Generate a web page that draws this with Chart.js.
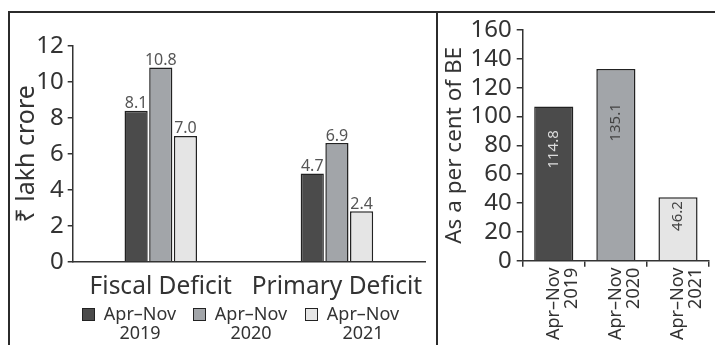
<!DOCTYPE html>
<html>
<head>
<meta charset="utf-8">
<script src="https://cdn.jsdelivr.net/npm/chart.js@4.4.1/dist/chart.umd.min.js"></script>
<style>
  body { margin: 0; background: #fff; font-family: 'Noto Sans', sans-serif; }
  #wrap { position: relative; width: 715px; height: 345px; overflow: hidden; }
  .line { position: absolute; background: #2b2b2b; }
  canvas { position: absolute; }
  .leg { position: absolute; top: 304px; color: #333; font-size: 18px; line-height: 19px; }
  .leg .box { position: absolute; left: 0; top: 4px; width: 11px; height: 11px; border: 1.5px solid #222; }
  .leg .txt { position: absolute; left: 17px; top: 0; width: 82px; text-align: center; white-space: nowrap; }
</style>
</head>
<body>
<div id="wrap">
  <div class="line" style="left:8px;top:11px;width:707px;height:2px"></div>
  <div class="line" style="left:8px;top:11px;width:2px;height:334px"></div>
  <div class="line" style="left:436px;top:11px;width:2px;height:334px"></div>
  <canvas id="deficitChart" width="426" height="332" style="left:10px;top:13px"></canvas>
  <canvas id="beChart" width="277" height="332" style="left:438px;top:13px"></canvas>
  <div id="legend"></div>
</div>
<script>
// left chart: Rs lakh crore
const categories = ['Fiscal Deficit', 'Primary Deficit'];
const periods = ['2019', '2020', '2021'];
const values2019 = [8.4, 4.9];
const values2020 = [10.8, 6.6];
const values2021 = [7.0, 2.8];
const labels2019 = ['8.1', '4.7'];
const labels2020 = ['10.8', '6.9'];
const labels2021 = ['7.0', '2.4'];

// right chart: fiscal deficit as per cent of BE
const beCategories = [['Apr–Nov', '2019'], ['Apr–Nov', '2020'], ['Apr–Nov', '2021']];
const beValues = [107, 133, 44];
const beLabels = ['114.8', '135.1', '46.2'];

const colors = ['#4b4b4b', '#a2a5a9', '#e5e5e5'];
const valueColors = ['#dcdcdc', '#444', '#444'];

Chart.defaults.font.family = "'Noto Sans', sans-serif";
Chart.defaults.color = '#333';

// legend (two-line labels)
const legendLefts = [82, 193, 305];
document.getElementById('legend').innerHTML = periods.map((p, i) =>
  `<div class="leg" style="left:${legendLefts[i]}px">
     <div class="box" style="background:${colors[i]}"></div>
     <div class="txt">Apr–Nov<br>${p}</div>
   </div>`).join('');

const barValueLabels = {
  id: 'barValueLabels',
  afterDatasetsDraw(chart, args, opts) {
    const ctx = chart.ctx;
    ctx.save();
    chart.data.datasets.forEach((ds, di) => {
      chart.getDatasetMeta(di).data.forEach((bar, i) => {
        const text = ds.valueLabels[i];
        if (opts.inside) {
          ctx.translate(bar.x, bar.y + (bar.base - bar.y) * opts.pos[i]);
          ctx.rotate(-Math.PI / 2);
          ctx.font = '15px "Noto Sans"';
          ctx.fillStyle = valueColors[i];
          ctx.textAlign = 'center';
          ctx.textBaseline = 'middle';
          ctx.fillText(text, 0, 0);
          ctx.setTransform(1, 0, 0, 1, 0, 0);
        } else {
          ctx.font = '16px "Noto Sans"';
          ctx.fillStyle = '#555';
          ctx.textAlign = 'center';
          ctx.textBaseline = 'bottom';
          ctx.fillText(text, bar.x, bar.y + 1);
        }
      });
    });
    ctx.restore();
  }
};

const axisLine = { display: true, color: '#333', width: 1.5 };

new Chart(document.getElementById('deficitChart'), {
  type: 'bar',
  data: {
    labels: categories,
    datasets: [
      { data: values2019, valueLabels: labels2019, backgroundColor: colors[0] },
      { data: values2020, valueLabels: labels2020, backgroundColor: colors[1] },
      { data: values2021, valueLabels: labels2021, backgroundColor: colors[2] }
    ].map(d => Object.assign(d, { borderColor: '#222', borderWidth: 1.5, borderSkipped: 'bottom' }))
  },
  options: {
    responsive: false,
    animation: false,
    categoryPercentage: 0.42,
    barPercentage: 0.94,
    layout: { padding: { top: 33, right: 11, left: 0, bottom: 0 } },
    plugins: { legend: { display: false }, tooltip: { enabled: false }, barValueLabels: { inside: false } },
    scales: {
      x: {
        border: axisLine,
        grid: { display: false },
        ticks: { font: { size: 24.5 }, padding: 3, minRotation: 0, maxRotation: 0, autoSkip: false, color: '#333' },
        afterFit: s => { s.height = 83.3; s.paddingLeft = 0; s.paddingRight = 0; }
      },
      y: {
        min: 0, max: 12,
        border: axisLine,
        grid: { drawOnChartArea: false, tickLength: 5, color: '#333', lineWidth: 1.5 },
        ticks: { stepSize: 2, autoSkip: false, font: { size: 24 }, padding: 4, color: '#333' },
        title: { display: true, text: '₹ lakh crore', font: { size: 25 }, color: '#333', padding: { top: 2, bottom: 0 } },
        afterFit: s => { s.width = 62.7; }
      }
    }
  },
  plugins: [barValueLabels]
});

new Chart(document.getElementById('beChart'), {
  type: 'bar',
  data: {
    labels: beCategories,
    datasets: [{
      data: beValues,
      valueLabels: beLabels,
      backgroundColor: colors,
      borderColor: '#222',
      borderWidth: 1.5,
      borderSkipped: 'bottom'
    }]
  },
  options: {
    responsive: false,
    animation: false,
    categoryPercentage: 1,
    barPercentage: 0.63,
    layout: { padding: { top: 17, right: 0, left: 0, bottom: 0 } },
    plugins: { legend: { display: false }, tooltip: { enabled: false }, barValueLabels: { inside: true, pos: [0.28, 0.28, 0.3] } },
    scales: {
      x: {
        border: axisLine,
        grid: { drawOnChartArea: false, tickLength: 6, color: '#333', lineWidth: 1.5 },
        ticks: { font: { size: 18, lineHeight: 1.0 }, minRotation: 90, maxRotation: 90, autoSkip: false, padding: 1, color: '#333' },
        afterFit: s => { s.height = 84.3; }
      },
      y: {
        min: 0, max: 160,
        border: axisLine,
        grid: { drawOnChartArea: false, tickLength: 6, color: '#333', lineWidth: 1.5 },
        ticks: { stepSize: 20, autoSkip: false, font: { size: 24, lineHeight: 1.0 }, padding: 5, color: '#333' },
        title: { display: true, text: 'As a per cent of BE', font: { size: 22.5 }, color: '#333', padding: { top: 3, bottom: 0 } },
        afterFit: s => { s.width = 84.7; }
      }
    }
  },
  plugins: [barValueLabels]
});
</script>
</body>
</html>
